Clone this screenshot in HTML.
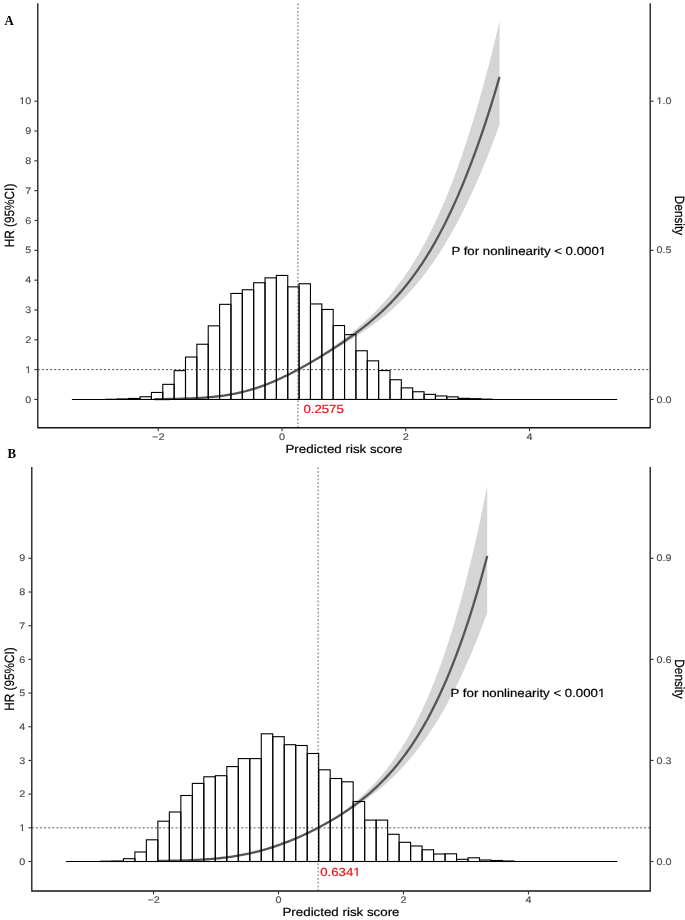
<!DOCTYPE html>
<html><head><meta charset="utf-8"><style>
html,body{margin:0;padding:0;background:#fff;}
svg{display:block;will-change:transform;}
text{text-rendering:geometricPrecision;}
</style></head><body>
<svg width="685" height="920" viewBox="0 0 685 920">
<rect width="685" height="920" fill="#fff"/>
<line x1="37.70" y1="369.62" x2="650.2" y2="369.62" stroke="#474747" stroke-width="1.0" stroke-dasharray="2 2.14"/>
<line x1="297.93" y1="3.6" x2="297.93" y2="427.75" stroke="#666" stroke-width="1.0" stroke-dasharray="1.8 1.84"/>
<polygon points="154.35,399.12 155.80,399.11 157.24,399.10 158.68,399.08 160.13,399.07 161.57,399.05 163.02,399.03 164.46,399.01 165.91,398.99 167.35,398.97 168.80,398.94 170.24,398.91 171.68,398.89 173.13,398.86 174.57,398.82 176.02,398.79 177.46,398.75 178.91,398.72 180.35,398.67 181.79,398.63 183.24,398.58 184.68,398.53 186.13,398.48 187.57,398.42 189.02,398.36 190.46,398.30 191.91,398.23 193.35,398.16 194.79,398.08 196.24,398.00 197.68,397.92 199.13,397.83 200.57,397.73 202.02,397.63 203.46,397.52 204.90,397.41 206.35,397.29 207.79,397.17 209.24,397.03 210.68,396.90 212.13,396.75 213.57,396.60 215.01,396.43 216.46,396.27 217.90,396.09 219.35,395.90 220.79,395.71 222.24,395.50 223.68,395.29 225.13,395.07 226.57,394.83 228.01,394.59 229.46,394.34 230.90,394.07 232.35,393.80 233.79,393.52 235.24,393.22 236.68,392.91 238.12,392.60 239.57,392.27 241.01,391.92 242.46,391.57 243.90,391.21 245.35,390.83 246.79,390.44 248.23,390.04 249.68,389.62 251.12,389.20 252.57,388.76 254.01,388.31 255.46,387.85 256.90,387.38 258.35,386.89 259.79,386.39 261.23,385.88 262.68,385.36 264.12,384.83 265.57,384.29 267.01,383.73 268.46,383.17 269.90,382.59 271.34,382.00 272.79,381.40 274.23,380.80 275.68,380.18 277.12,379.55 278.57,378.92 280.01,378.27 281.46,377.62 282.90,376.95 284.34,376.28 285.79,375.61 287.23,374.92 288.68,374.23 290.12,373.52 291.57,372.82 293.01,372.10 294.45,371.38 295.90,370.66 297.34,369.93 298.79,369.14 300.23,368.30 301.68,367.46 303.12,366.61 304.56,365.75 306.01,364.88 307.45,364.00 308.90,363.11 310.34,362.21 311.79,361.30 313.23,360.39 314.68,359.47 316.12,358.54 317.56,357.60 319.01,356.65 320.45,355.69 321.90,354.73 323.34,353.76 324.79,352.78 326.23,351.79 327.67,350.79 329.12,349.79 330.56,348.77 332.01,347.75 333.45,346.71 334.90,345.67 336.34,344.62 337.78,343.56 339.23,342.49 340.67,341.41 342.12,340.31 343.56,339.21 345.01,338.10 346.45,336.97 347.90,335.84 349.34,334.69 350.78,333.53 352.23,332.35 353.67,331.17 355.12,329.96 356.56,328.75 358.01,327.52 359.45,326.27 360.89,325.01 362.34,323.73 363.78,322.44 365.23,321.13 366.67,319.80 368.12,318.45 369.56,317.08 371.00,315.69 372.45,314.28 373.89,312.85 375.34,311.40 376.78,309.93 378.23,308.43 379.67,306.91 381.12,305.37 382.56,303.79 384.00,302.20 385.45,300.57 386.89,298.92 388.34,297.24 389.78,295.53 391.23,293.79 392.67,292.02 394.11,290.22 395.56,288.39 397.00,286.52 398.45,284.62 399.89,282.69 401.34,280.71 402.78,278.71 404.23,276.66 405.67,274.58 407.11,272.46 408.56,270.29 410.00,268.09 411.45,265.85 412.89,263.56 414.34,261.23 415.78,258.86 417.22,256.44 418.67,253.97 420.11,251.46 421.56,248.90 423.00,246.30 424.45,243.64 425.89,240.94 427.33,238.18 428.78,235.37 430.22,232.51 431.67,229.60 433.11,226.64 434.56,223.62 436.00,220.54 437.45,217.41 438.89,214.22 440.33,210.98 441.78,207.68 443.22,204.32 444.67,200.90 446.11,197.42 447.56,193.88 449.00,190.28 450.44,186.62 451.89,182.89 453.33,179.11 454.78,175.26 456.22,171.34 457.67,167.37 459.11,163.33 460.55,159.22 462.00,155.05 463.44,150.81 464.89,146.50 466.33,142.13 467.78,137.69 469.22,133.18 470.67,128.60 472.11,123.95 473.55,119.23 475.00,114.44 476.44,109.58 477.89,104.64 479.33,99.63 480.78,94.55 482.22,89.39 483.66,84.16 485.11,78.85 486.55,73.45 488.00,67.98 489.44,62.43 490.89,56.79 492.33,51.07 493.78,45.26 495.22,39.35 496.66,33.36 498.11,27.27 499.55,21.08 499.55,124.45 498.11,128.50 496.66,132.48 495.22,136.40 493.78,140.27 492.33,144.09 490.89,147.85 489.44,151.56 488.00,155.22 486.55,158.83 485.11,162.39 483.66,165.91 482.22,169.38 480.78,172.80 479.33,176.18 477.89,179.51 476.44,182.80 475.00,186.04 473.55,189.25 472.11,192.41 470.67,195.52 469.22,198.60 467.78,201.63 466.33,204.62 464.89,207.57 463.44,210.48 462.00,213.35 460.55,216.18 459.11,218.97 457.67,221.71 456.22,224.42 454.78,227.09 453.33,229.72 451.89,232.31 450.44,234.86 449.00,237.37 447.56,239.84 446.11,242.28 444.67,244.67 443.22,247.03 441.78,249.35 440.33,251.64 438.89,253.89 437.45,256.10 436.00,258.27 434.56,260.41 433.11,262.52 431.67,264.59 430.22,266.62 428.78,268.62 427.33,270.59 425.89,272.52 424.45,274.42 423.00,276.29 421.56,278.13 420.11,279.93 418.67,281.70 417.22,283.45 415.78,285.16 414.34,286.84 412.89,288.50 411.45,290.13 410.00,291.72 408.56,293.29 407.11,294.84 405.67,296.36 404.23,297.85 402.78,299.31 401.34,300.76 399.89,302.17 398.45,303.57 397.00,304.94 395.56,306.29 394.11,307.61 392.67,308.92 391.23,310.20 389.78,311.47 388.34,312.71 386.89,313.93 385.45,315.14 384.00,316.33 382.56,317.50 381.12,318.65 379.67,319.79 378.23,320.91 376.78,322.01 375.34,323.10 373.89,324.18 372.45,325.24 371.00,326.29 369.56,327.33 368.12,328.35 366.67,329.36 365.23,330.36 363.78,331.35 362.34,332.32 360.89,333.29 359.45,334.25 358.01,335.19 356.56,336.13 355.12,337.06 353.67,337.99 352.23,338.90 350.78,339.81 349.34,340.71 347.90,341.60 346.45,342.48 345.01,343.36 343.56,344.24 342.12,345.10 340.67,345.97 339.23,346.82 337.78,347.68 336.34,348.53 334.90,349.37 333.45,350.21 332.01,351.04 330.56,351.87 329.12,352.70 327.67,353.52 326.23,354.34 324.79,355.16 323.34,355.97 321.90,356.78 320.45,357.58 319.01,358.38 317.56,359.18 316.12,359.97 314.68,360.76 313.23,361.55 311.79,362.33 310.34,363.11 308.90,363.89 307.45,364.66 306.01,365.43 304.56,366.19 303.12,366.95 301.68,367.70 300.23,368.45 298.79,369.19 297.34,369.96 295.90,370.77 294.45,371.58 293.01,372.37 291.57,373.15 290.12,373.92 288.68,374.68 287.23,375.43 285.79,376.17 284.34,376.90 282.90,377.61 281.46,378.31 280.01,379.00 278.57,379.68 277.12,380.35 275.68,381.00 274.23,381.64 272.79,382.27 271.34,382.88 269.90,383.48 268.46,384.07 267.01,384.65 265.57,385.21 264.12,385.76 262.68,386.29 261.23,386.81 259.79,387.32 258.35,387.81 256.90,388.29 255.46,388.76 254.01,389.21 252.57,389.65 251.12,390.07 249.68,390.49 248.23,390.89 246.79,391.27 245.35,391.65 243.90,392.01 242.46,392.35 241.01,392.69 239.57,393.01 238.12,393.32 236.68,393.62 235.24,393.91 233.79,394.19 232.35,394.45 230.90,394.71 229.46,394.95 228.01,395.18 226.57,395.41 225.13,395.62 223.68,395.82 222.24,396.02 220.79,396.20 219.35,396.38 217.90,396.55 216.46,396.71 215.01,396.86 213.57,397.00 212.13,397.14 210.68,397.27 209.24,397.39 207.79,397.51 206.35,397.62 204.90,397.73 203.46,397.83 202.02,397.92 200.57,398.01 199.13,398.09 197.68,398.17 196.24,398.24 194.79,398.31 193.35,398.38 191.91,398.44 190.46,398.50 189.02,398.55 187.57,398.61 186.13,398.65 184.68,398.70 183.24,398.74 181.79,398.78 180.35,398.82 178.91,398.85 177.46,398.89 176.02,398.92 174.57,398.95 173.13,398.97 171.68,399.00 170.24,399.02 168.80,399.04 167.35,399.06 165.91,399.08 164.46,399.10 163.02,399.12 161.57,399.13 160.13,399.15 158.68,399.16 157.24,399.17 155.80,399.18 154.35,399.19" fill="#000" fill-opacity="0.165"/>
<polyline points="154.35,399.16 155.80,399.15 157.24,399.14 158.68,399.12 160.13,399.11 161.57,399.09 163.02,399.08 164.46,399.06 165.91,399.04 167.35,399.02 168.80,399.00 170.24,398.97 171.68,398.95 173.13,398.92 174.57,398.89 176.02,398.86 177.46,398.82 178.91,398.79 180.35,398.75 181.79,398.71 183.24,398.67 184.68,398.62 186.13,398.57 187.57,398.52 189.02,398.46 190.46,398.40 191.91,398.34 193.35,398.27 194.79,398.20 196.24,398.13 197.68,398.05 199.13,397.96 200.57,397.88 202.02,397.78 203.46,397.68 204.90,397.58 206.35,397.46 207.79,397.35 209.24,397.22 210.68,397.09 212.13,396.95 213.57,396.81 215.01,396.65 216.46,396.49 217.90,396.33 219.35,396.15 220.79,395.96 222.24,395.77 223.68,395.57 225.13,395.35 226.57,395.13 228.01,394.90 229.46,394.65 230.90,394.40 232.35,394.14 233.79,393.86 235.24,393.58 236.68,393.28 238.12,392.97 239.57,392.65 241.01,392.32 242.46,391.97 243.90,391.62 245.35,391.25 246.79,390.87 248.23,390.47 249.68,390.07 251.12,389.65 252.57,389.21 254.01,388.77 255.46,388.31 256.90,387.84 258.35,387.36 259.79,386.86 261.23,386.35 262.68,385.83 264.12,385.30 265.57,384.75 267.01,384.20 268.46,383.63 269.90,383.04 271.34,382.45 272.79,381.84 274.23,381.22 275.68,380.59 277.12,379.95 278.57,379.30 280.01,378.64 281.46,377.97 282.90,377.29 284.34,376.59 285.79,375.89 287.23,375.18 288.68,374.46 290.12,373.73 291.57,372.99 293.01,372.24 294.45,371.48 295.90,370.72 297.34,369.94 298.79,369.16 300.23,368.37 301.68,367.58 303.12,366.78 304.56,365.97 306.01,365.15 307.45,364.33 308.90,363.50 310.34,362.66 311.79,361.82 313.23,360.98 314.68,360.12 316.12,359.26 317.56,358.40 319.01,357.53 320.45,356.65 321.90,355.77 323.34,354.88 324.79,353.98 326.23,353.08 327.67,352.18 329.12,351.26 330.56,350.35 332.01,349.42 333.45,348.49 334.90,347.55 336.34,346.61 337.78,345.66 339.23,344.70 340.67,343.73 342.12,342.76 343.56,341.78 345.01,340.79 346.45,339.79 347.90,338.79 349.34,337.77 350.78,336.75 352.23,335.71 353.67,334.67 355.12,333.61 356.56,332.54 358.01,331.47 359.45,330.38 360.89,329.27 362.34,328.16 363.78,327.03 365.23,325.89 366.67,324.73 368.12,323.56 369.56,322.37 371.00,321.17 372.45,319.95 373.89,318.72 375.34,317.46 376.78,316.19 378.23,314.90 379.67,313.59 381.12,312.26 382.56,310.91 384.00,309.54 385.45,308.15 386.89,306.73 388.34,305.29 389.78,303.83 391.23,302.34 392.67,300.83 394.11,299.29 395.56,297.73 397.00,296.14 398.45,294.52 399.89,292.87 401.34,291.20 402.78,289.49 404.23,287.76 405.67,285.99 407.11,284.19 408.56,282.36 410.00,280.49 411.45,278.59 412.89,276.66 414.34,274.69 415.78,272.69 417.22,270.65 418.67,268.57 420.11,266.46 421.56,264.30 423.00,262.11 424.45,259.88 425.89,257.60 427.33,255.29 428.78,252.94 430.22,250.54 431.67,248.10 433.11,245.62 434.56,243.09 436.00,240.52 437.45,237.91 438.89,235.25 440.33,232.54 441.78,229.79 443.22,226.99 444.67,224.15 446.11,221.25 447.56,218.31 449.00,215.32 450.44,212.28 451.89,209.20 453.33,206.06 454.78,202.87 456.22,199.64 457.67,196.35 459.11,193.01 460.55,189.62 462.00,186.18 463.44,182.69 464.89,179.14 466.33,175.55 467.78,171.89 469.22,168.19 470.67,164.43 472.11,160.62 473.55,156.75 475.00,152.83 476.44,148.85 477.89,144.81 479.33,140.72 480.78,136.57 482.22,132.36 483.66,128.09 485.11,123.77 486.55,119.38 488.00,114.92 489.44,110.41 490.89,105.83 492.33,101.18 493.78,96.47 495.22,91.68 496.66,86.82 498.11,81.89 499.55,76.88" fill="none" stroke="#555" stroke-width="2.3" stroke-linejoin="round"/>
<rect x="105.98" y="399.25" width="11.360" height="0.20" fill="none" stroke="#000" stroke-width="1.1"/>
<rect x="117.34" y="398.95" width="11.360" height="0.50" fill="none" stroke="#000" stroke-width="1.1"/>
<rect x="128.70" y="398.45" width="11.360" height="1.00" fill="none" stroke="#000" stroke-width="1.1"/>
<rect x="140.06" y="396.75" width="11.360" height="2.70" fill="none" stroke="#000" stroke-width="1.1"/>
<rect x="151.42" y="392.45" width="11.360" height="7.00" fill="none" stroke="#000" stroke-width="1.1"/>
<rect x="162.78" y="384.35" width="11.360" height="15.10" fill="none" stroke="#000" stroke-width="1.1"/>
<rect x="174.14" y="370.65" width="11.360" height="28.80" fill="none" stroke="#000" stroke-width="1.1"/>
<rect x="185.50" y="357.05" width="11.360" height="42.40" fill="none" stroke="#000" stroke-width="1.1"/>
<rect x="196.86" y="344.25" width="11.360" height="55.20" fill="none" stroke="#000" stroke-width="1.1"/>
<rect x="208.22" y="325.85" width="11.360" height="73.60" fill="none" stroke="#000" stroke-width="1.1"/>
<rect x="219.58" y="304.35" width="11.360" height="95.10" fill="none" stroke="#000" stroke-width="1.1"/>
<rect x="230.94" y="293.45" width="11.360" height="106.00" fill="none" stroke="#000" stroke-width="1.1"/>
<rect x="242.30" y="289.75" width="11.360" height="109.70" fill="none" stroke="#000" stroke-width="1.1"/>
<rect x="253.66" y="282.75" width="11.360" height="116.70" fill="none" stroke="#000" stroke-width="1.1"/>
<rect x="265.02" y="277.85" width="11.360" height="121.60" fill="none" stroke="#000" stroke-width="1.1"/>
<rect x="276.38" y="275.45" width="11.360" height="124.00" fill="none" stroke="#000" stroke-width="1.1"/>
<rect x="287.74" y="286.85" width="11.360" height="112.60" fill="none" stroke="#000" stroke-width="1.1"/>
<rect x="299.10" y="283.75" width="11.360" height="115.70" fill="none" stroke="#000" stroke-width="1.1"/>
<rect x="310.46" y="303.95" width="11.360" height="95.50" fill="none" stroke="#000" stroke-width="1.1"/>
<rect x="321.82" y="309.45" width="11.360" height="90.00" fill="none" stroke="#000" stroke-width="1.1"/>
<rect x="333.18" y="325.55" width="11.360" height="73.90" fill="none" stroke="#000" stroke-width="1.1"/>
<rect x="344.54" y="334.65" width="11.360" height="64.80" fill="none" stroke="#000" stroke-width="1.1"/>
<rect x="355.90" y="350.75" width="11.360" height="48.70" fill="none" stroke="#000" stroke-width="1.1"/>
<rect x="367.26" y="360.85" width="11.360" height="38.60" fill="none" stroke="#000" stroke-width="1.1"/>
<rect x="378.62" y="370.55" width="11.360" height="28.90" fill="none" stroke="#000" stroke-width="1.1"/>
<rect x="389.98" y="379.75" width="11.360" height="19.70" fill="none" stroke="#000" stroke-width="1.1"/>
<rect x="401.34" y="387.85" width="11.360" height="11.60" fill="none" stroke="#000" stroke-width="1.1"/>
<rect x="412.70" y="391.75" width="11.360" height="7.70" fill="none" stroke="#000" stroke-width="1.1"/>
<rect x="424.06" y="394.35" width="11.360" height="5.10" fill="none" stroke="#000" stroke-width="1.1"/>
<rect x="435.42" y="395.95" width="11.360" height="3.50" fill="none" stroke="#000" stroke-width="1.1"/>
<rect x="446.78" y="396.85" width="11.360" height="2.60" fill="none" stroke="#000" stroke-width="1.1"/>
<rect x="458.14" y="398.35" width="11.360" height="1.10" fill="none" stroke="#000" stroke-width="1.1"/>
<rect x="469.50" y="398.65" width="11.360" height="0.80" fill="none" stroke="#000" stroke-width="1.1"/>
<rect x="480.86" y="399.15" width="11.360" height="0.30" fill="none" stroke="#000" stroke-width="1.1"/>
<line x1="71.90" y1="399.45" x2="617.18" y2="399.45" stroke="#000" stroke-width="1.1"/>
<path d="M37.8,3.2 V427.75 H650.2 V3.2" fill="none" stroke="#141414" stroke-width="1.3"/>
<line x1="34.40" y1="399.45" x2="37.8" y2="399.45" stroke="#333" stroke-width="1.1"/>
<text transform="translate(31.20,402.60) scale(1.13,1)" font-family="Liberation Sans" font-size="9.55" font-weight="normal" text-anchor="end" fill="#4d4d4d" stroke="#4d4d4d" stroke-width="0.15">0</text>
<line x1="34.40" y1="369.62" x2="37.8" y2="369.62" stroke="#333" stroke-width="1.1"/>
<text transform="translate(31.20,372.77) scale(1.13,1)" font-family="Liberation Sans" font-size="9.55" font-weight="normal" text-anchor="end" fill="#4d4d4d" stroke="#4d4d4d" stroke-width="0.15">1</text><g transform="translate(31.20,372.77) scale(1.13,1)"><rect x="-5.210" y="-1.463" width="2.099" height="2.288" fill="#fff"/><rect x="-1.867" y="-1.463" width="2.024" height="2.288" fill="#fff"/></g>
<line x1="34.40" y1="339.80" x2="37.8" y2="339.80" stroke="#333" stroke-width="1.1"/>
<text transform="translate(31.20,342.95) scale(1.13,1)" font-family="Liberation Sans" font-size="9.55" font-weight="normal" text-anchor="end" fill="#4d4d4d" stroke="#4d4d4d" stroke-width="0.15">2</text>
<line x1="34.40" y1="309.98" x2="37.8" y2="309.98" stroke="#333" stroke-width="1.1"/>
<text transform="translate(31.20,313.12) scale(1.13,1)" font-family="Liberation Sans" font-size="9.55" font-weight="normal" text-anchor="end" fill="#4d4d4d" stroke="#4d4d4d" stroke-width="0.15">3</text>
<line x1="34.40" y1="280.15" x2="37.8" y2="280.15" stroke="#333" stroke-width="1.1"/>
<text transform="translate(31.20,283.30) scale(1.13,1)" font-family="Liberation Sans" font-size="9.55" font-weight="normal" text-anchor="end" fill="#4d4d4d" stroke="#4d4d4d" stroke-width="0.15">4</text>
<line x1="34.40" y1="250.32" x2="37.8" y2="250.32" stroke="#333" stroke-width="1.1"/>
<text transform="translate(31.20,253.47) scale(1.13,1)" font-family="Liberation Sans" font-size="9.55" font-weight="normal" text-anchor="end" fill="#4d4d4d" stroke="#4d4d4d" stroke-width="0.15">5</text>
<line x1="34.40" y1="220.50" x2="37.8" y2="220.50" stroke="#333" stroke-width="1.1"/>
<text transform="translate(31.20,223.65) scale(1.13,1)" font-family="Liberation Sans" font-size="9.55" font-weight="normal" text-anchor="end" fill="#4d4d4d" stroke="#4d4d4d" stroke-width="0.15">6</text>
<line x1="34.40" y1="190.67" x2="37.8" y2="190.67" stroke="#333" stroke-width="1.1"/>
<text transform="translate(31.20,193.82) scale(1.13,1)" font-family="Liberation Sans" font-size="9.55" font-weight="normal" text-anchor="end" fill="#4d4d4d" stroke="#4d4d4d" stroke-width="0.15">7</text>
<line x1="34.40" y1="160.85" x2="37.8" y2="160.85" stroke="#333" stroke-width="1.1"/>
<text transform="translate(31.20,164.00) scale(1.13,1)" font-family="Liberation Sans" font-size="9.55" font-weight="normal" text-anchor="end" fill="#4d4d4d" stroke="#4d4d4d" stroke-width="0.15">8</text>
<line x1="34.40" y1="131.02" x2="37.8" y2="131.02" stroke="#333" stroke-width="1.1"/>
<text transform="translate(31.20,134.17) scale(1.13,1)" font-family="Liberation Sans" font-size="9.55" font-weight="normal" text-anchor="end" fill="#4d4d4d" stroke="#4d4d4d" stroke-width="0.15">9</text>
<line x1="34.40" y1="101.20" x2="37.8" y2="101.20" stroke="#333" stroke-width="1.1"/>
<text transform="translate(31.20,104.35) scale(1.13,1)" font-family="Liberation Sans" font-size="9.55" font-weight="normal" text-anchor="end" fill="#4d4d4d" stroke="#4d4d4d" stroke-width="0.15">10</text><g transform="translate(31.20,104.35) scale(1.13,1)"><rect x="-10.523" y="-1.463" width="2.099" height="2.288" fill="#fff"/><rect x="-7.179" y="-1.463" width="2.024" height="2.288" fill="#fff"/></g>
<line x1="158.25" y1="427.75" x2="158.25" y2="431.15" stroke="#333" stroke-width="1.1"/>
<text transform="translate(158.25,439.75) scale(1.13,1)" font-family="Liberation Sans" font-size="9.55" font-weight="normal" text-anchor="middle" fill="#4d4d4d" stroke="#4d4d4d" stroke-width="0.15">−2</text>
<line x1="282.00" y1="427.75" x2="282.00" y2="431.15" stroke="#333" stroke-width="1.1"/>
<text transform="translate(282.00,439.75) scale(1.13,1)" font-family="Liberation Sans" font-size="9.55" font-weight="normal" text-anchor="middle" fill="#4d4d4d" stroke="#4d4d4d" stroke-width="0.15">0</text>
<line x1="405.75" y1="427.75" x2="405.75" y2="431.15" stroke="#333" stroke-width="1.1"/>
<text transform="translate(405.75,439.75) scale(1.13,1)" font-family="Liberation Sans" font-size="9.55" font-weight="normal" text-anchor="middle" fill="#4d4d4d" stroke="#4d4d4d" stroke-width="0.15">2</text>
<line x1="529.50" y1="427.75" x2="529.50" y2="431.15" stroke="#333" stroke-width="1.1"/>
<text transform="translate(529.50,439.75) scale(1.13,1)" font-family="Liberation Sans" font-size="9.55" font-weight="normal" text-anchor="middle" fill="#4d4d4d" stroke="#4d4d4d" stroke-width="0.15">4</text>
<line x1="650.2" y1="399.45" x2="653.60" y2="399.45" stroke="#333" stroke-width="1.1"/>
<text transform="translate(656.60,402.60) scale(1.13,1)" font-family="Liberation Sans" font-size="9.55" font-weight="normal" text-anchor="start" fill="#4d4d4d" stroke="#4d4d4d" stroke-width="0.15">0.0</text>
<line x1="650.2" y1="250.32" x2="653.60" y2="250.32" stroke="#333" stroke-width="1.1"/>
<text transform="translate(656.60,253.47) scale(1.13,1)" font-family="Liberation Sans" font-size="9.55" font-weight="normal" text-anchor="start" fill="#4d4d4d" stroke="#4d4d4d" stroke-width="0.15">0.5</text>
<line x1="650.2" y1="101.20" x2="653.60" y2="101.20" stroke="#333" stroke-width="1.1"/>
<text transform="translate(656.60,104.35) scale(1.13,1)" font-family="Liberation Sans" font-size="9.55" font-weight="normal" text-anchor="start" fill="#4d4d4d" stroke="#4d4d4d" stroke-width="0.15">1.0</text><g transform="translate(656.60,104.35) scale(1.13,1)"><rect x="0.102" y="-1.463" width="2.099" height="2.288" fill="#fff"/><rect x="3.446" y="-1.463" width="2.024" height="2.288" fill="#fff"/></g>
<text transform="translate(344.00,452.70) scale(1.13,1)" font-family="Liberation Sans" font-size="11.8" font-weight="normal" text-anchor="middle" fill="#000" stroke="#000" stroke-width="0.2">Predicted risk score</text>
<text transform="translate(13.60,215.47) scale(1.13,1) rotate(-90)" font-family="Liberation Sans" font-size="11.8" font-weight="normal" text-anchor="middle" fill="#000" stroke="#000" stroke-width="0.2">HR (95%CI)</text>
<text transform="translate(674.60,215.47) scale(1.13,1) rotate(90)" font-family="Liberation Sans" font-size="11.8" font-weight="normal" text-anchor="middle" fill="#000" stroke="#000" stroke-width="0.2">Density</text>
<text transform="translate(451.40,254.60) scale(1.13,1)" font-family="Liberation Sans" font-size="11.72" font-weight="normal" text-anchor="start" fill="#000" stroke="#000" stroke-width="0.2">P for nonlinearity &lt; 0.0001</text><g transform="translate(451.40,254.60) scale(1.13,1)"><rect x="130.633" y="-1.626" width="2.504" height="2.476" fill="#fff"/><rect x="134.574" y="-1.626" width="2.413" height="2.476" fill="#fff"/></g>
<text transform="translate(303.40,412.60) scale(1.13,1)" font-family="Liberation Sans" font-size="11.7" font-weight="normal" text-anchor="start" fill="#e31a1c" stroke="#e31a1c" stroke-width="0.22">0.2575</text>
<text transform="translate(4.40,24.90) scale(0.93,1)" font-family="Liberation Serif" font-size="13.8" font-weight="bold" text-anchor="start" fill="#000">A</text>
<line x1="31.70" y1="827.81" x2="650.2" y2="827.81" stroke="#8f8f8f" stroke-width="1.5" stroke-dasharray="2 2.11"/>
<line x1="318.12" y1="467.4" x2="318.12" y2="891.0" stroke="#6a6a6a" stroke-width="1.0" stroke-dasharray="1.8 1.9"/>
<polygon points="157.89,860.83 159.27,860.81 160.65,860.79 162.03,860.77 163.41,860.75 164.78,860.73 166.16,860.71 167.54,860.68 168.92,860.66 170.30,860.63 171.67,860.60 173.05,860.57 174.43,860.53 175.81,860.50 177.19,860.46 178.56,860.42 179.94,860.38 181.32,860.34 182.70,860.29 184.07,860.24 185.45,860.19 186.83,860.14 188.21,860.08 189.59,860.02 190.96,859.96 192.34,859.89 193.72,859.82 195.10,859.75 196.48,859.67 197.85,859.59 199.23,859.51 200.61,859.42 201.99,859.33 203.37,859.24 204.74,859.14 206.12,859.03 207.50,858.92 208.88,858.81 210.26,858.69 211.63,858.57 213.01,858.44 214.39,858.30 215.77,858.17 217.14,858.02 218.52,857.87 219.90,857.71 221.28,857.55 222.66,857.38 224.03,857.21 225.41,857.03 226.79,856.84 228.17,856.64 229.55,856.44 230.92,856.23 232.30,856.02 233.68,855.80 235.06,855.57 236.44,855.33 237.81,855.08 239.19,854.83 240.57,854.57 241.95,854.31 243.33,854.03 244.70,853.75 246.08,853.46 247.46,853.16 248.84,852.85 250.21,852.54 251.59,852.21 252.97,851.88 254.35,851.55 255.73,851.20 257.10,850.84 258.48,850.48 259.86,850.11 261.24,849.73 262.62,849.34 263.99,848.95 265.37,848.55 266.75,848.14 268.13,847.72 269.51,847.29 270.88,846.86 272.26,846.41 273.64,845.97 275.02,845.51 276.40,845.04 277.77,844.57 279.15,844.09 280.53,843.61 281.91,843.11 283.28,842.61 284.66,842.10 286.04,841.59 287.42,841.07 288.80,840.54 290.17,840.00 291.55,839.46 292.93,838.91 294.31,838.36 295.69,837.80 297.06,837.23 298.44,836.66 299.82,836.08 301.20,835.49 302.58,834.90 303.95,834.30 305.33,833.70 306.71,833.09 308.09,832.47 309.47,831.85 310.84,831.22 312.22,830.59 313.60,829.95 314.98,829.31 316.35,828.66 317.73,828.00 319.11,827.25 320.49,826.45 321.87,825.64 323.24,824.82 324.62,823.99 326.00,823.14 327.38,822.29 328.76,821.42 330.13,820.54 331.51,819.64 332.89,818.73 334.27,817.81 335.65,816.88 337.02,815.93 338.40,814.97 339.78,813.99 341.16,813.00 342.54,811.99 343.91,810.97 345.29,809.93 346.67,808.88 348.05,807.81 349.42,806.72 350.80,805.62 352.18,804.50 353.56,803.36 354.94,802.20 356.31,801.02 357.69,799.82 359.07,798.60 360.45,797.36 361.83,796.10 363.20,794.82 364.58,793.52 365.96,792.19 367.34,790.84 368.72,789.47 370.09,788.07 371.47,786.65 372.85,785.20 374.23,783.72 375.61,782.22 376.98,780.69 378.36,779.13 379.74,777.54 381.12,775.92 382.49,774.27 383.87,772.59 385.25,770.88 386.63,769.13 388.01,767.35 389.38,765.54 390.76,763.69 392.14,761.80 393.52,759.88 394.90,757.91 396.27,755.91 397.65,753.87 399.03,751.79 400.41,749.67 401.79,747.50 403.16,745.29 404.54,743.04 405.92,740.74 407.30,738.39 408.68,736.00 410.05,733.56 411.43,731.07 412.81,728.53 414.19,725.94 415.56,723.29 416.94,720.60 418.32,717.85 419.70,715.04 421.08,712.18 422.45,709.26 423.83,706.28 425.21,703.24 426.59,700.14 427.97,696.98 429.34,693.75 430.72,690.46 432.10,687.11 433.48,683.69 434.86,680.21 436.23,676.65 437.61,673.03 438.99,669.33 440.37,665.57 441.75,661.73 443.12,657.82 444.50,653.83 445.88,649.76 447.26,645.62 448.63,641.40 450.01,637.10 451.39,632.72 452.77,628.26 454.15,623.71 455.52,619.08 456.90,614.37 458.28,609.56 459.66,604.67 461.04,599.69 462.41,594.61 463.79,589.44 465.17,584.18 466.55,578.82 467.93,573.37 469.30,567.81 470.68,562.16 472.06,556.40 473.44,550.54 474.82,544.57 476.19,538.49 477.57,532.30 478.95,525.99 480.33,519.57 481.70,513.04 483.08,506.38 484.46,499.59 485.84,492.68 487.22,485.64 487.22,612.66 485.84,616.47 484.46,620.23 483.08,623.92 481.70,627.57 480.33,631.16 478.95,634.70 477.57,638.19 476.19,641.62 474.82,645.01 473.44,648.36 472.06,651.65 470.68,654.90 469.30,658.10 467.93,661.26 466.55,664.37 465.17,667.44 463.79,670.46 462.41,673.44 461.04,676.38 459.66,679.28 458.28,682.13 456.90,684.95 455.52,687.72 454.15,690.46 452.77,693.15 451.39,695.80 450.01,698.42 448.63,700.99 447.26,703.53 445.88,706.03 444.50,708.49 443.12,710.92 441.75,713.30 440.37,715.65 438.99,717.97 437.61,720.25 436.23,722.49 434.86,724.70 433.48,726.87 432.10,729.01 430.72,731.11 429.34,733.18 427.97,735.22 426.59,737.23 425.21,739.20 423.83,741.14 422.45,743.05 421.08,744.93 419.70,746.78 418.32,748.59 416.94,750.38 415.56,752.14 414.19,753.87 412.81,755.57 411.43,757.24 410.05,758.89 408.68,760.50 407.30,762.09 405.92,763.66 404.54,765.20 403.16,766.71 401.79,768.20 400.41,769.67 399.03,771.11 397.65,772.52 396.27,773.92 394.90,775.29 393.52,776.64 392.14,777.97 390.76,779.27 389.38,780.56 388.01,781.82 386.63,783.07 385.25,784.29 383.87,785.50 382.49,786.69 381.12,787.86 379.74,789.01 378.36,790.15 376.98,791.26 375.61,792.36 374.23,793.45 372.85,794.52 371.47,795.57 370.09,796.61 368.72,797.64 367.34,798.65 365.96,799.64 364.58,800.62 363.20,801.59 361.83,802.55 360.45,803.50 359.07,804.43 357.69,805.35 356.31,806.26 354.94,807.15 353.56,808.04 352.18,808.92 350.80,809.78 349.42,810.64 348.05,811.48 346.67,812.32 345.29,813.14 343.91,813.96 342.54,814.77 341.16,815.57 339.78,816.36 338.40,817.14 337.02,817.92 335.65,818.69 334.27,819.45 332.89,820.20 331.51,820.94 330.13,821.68 328.76,822.41 327.38,823.13 326.00,823.85 324.62,824.56 323.24,825.26 321.87,825.95 320.49,826.64 319.11,827.33 317.73,828.03 316.35,828.79 314.98,829.54 313.60,830.29 312.22,831.02 310.84,831.74 309.47,832.45 308.09,833.15 306.71,833.84 305.33,834.53 303.95,835.20 302.58,835.86 301.20,836.51 299.82,837.15 298.44,837.79 297.06,838.41 295.69,839.02 294.31,839.63 292.93,840.22 291.55,840.81 290.17,841.38 288.80,841.95 287.42,842.50 286.04,843.05 284.66,843.58 283.28,844.11 281.91,844.63 280.53,845.13 279.15,845.63 277.77,846.12 276.40,846.60 275.02,847.06 273.64,847.52 272.26,847.97 270.88,848.41 269.51,848.84 268.13,849.26 266.75,849.67 265.37,850.07 263.99,850.47 262.62,850.85 261.24,851.22 259.86,851.59 258.48,851.94 257.10,852.29 255.73,852.62 254.35,852.95 252.97,853.27 251.59,853.58 250.21,853.88 248.84,854.17 247.46,854.45 246.08,854.73 244.70,855.00 243.33,855.25 241.95,855.50 240.57,855.75 239.19,855.98 237.81,856.21 236.44,856.42 235.06,856.64 233.68,856.84 232.30,857.04 230.92,857.23 229.55,857.41 228.17,857.59 226.79,857.75 225.41,857.92 224.03,858.07 222.66,858.23 221.28,858.37 219.90,858.51 218.52,858.64 217.14,858.77 215.77,858.89 214.39,859.01 213.01,859.12 211.63,859.23 210.26,859.33 208.88,859.43 207.50,859.53 206.12,859.62 204.74,859.70 203.37,859.78 201.99,859.86 200.61,859.94 199.23,860.01 197.85,860.07 196.48,860.14 195.10,860.20 193.72,860.26 192.34,860.31 190.96,860.37 189.59,860.42 188.21,860.46 186.83,860.51 185.45,860.55 184.07,860.59 182.70,860.63 181.32,860.66 179.94,860.70 178.56,860.73 177.19,860.76 175.81,860.79 174.43,860.82 173.05,860.84 171.67,860.87 170.30,860.89 168.92,860.91 167.54,860.93 166.16,860.95 164.78,860.97 163.41,860.99 162.03,861.00 160.65,861.02 159.27,861.03 157.89,861.04" fill="#000" fill-opacity="0.165"/>
<polyline points="157.89,860.95 159.27,860.93 160.65,860.92 162.03,860.90 163.41,860.88 164.78,860.86 166.16,860.84 167.54,860.82 168.92,860.80 170.30,860.77 171.67,860.75 173.05,860.72 174.43,860.69 175.81,860.66 177.19,860.63 178.56,860.59 179.94,860.56 181.32,860.52 182.70,860.48 184.07,860.43 185.45,860.39 186.83,860.34 188.21,860.29 189.59,860.24 190.96,860.18 192.34,860.12 193.72,860.06 195.10,860.00 196.48,859.93 197.85,859.86 199.23,859.79 200.61,859.71 201.99,859.62 203.37,859.54 204.74,859.45 206.12,859.36 207.50,859.26 208.88,859.15 210.26,859.05 211.63,858.93 213.01,858.82 214.39,858.70 215.77,858.57 217.14,858.44 218.52,858.30 219.90,858.15 221.28,858.01 222.66,857.85 224.03,857.69 225.41,857.52 226.79,857.35 228.17,857.17 229.55,856.98 230.92,856.78 232.30,856.58 233.68,856.37 235.06,856.16 236.44,855.94 237.81,855.71 239.19,855.47 240.57,855.22 241.95,854.97 243.33,854.71 244.70,854.44 246.08,854.16 247.46,853.88 248.84,853.58 250.21,853.28 251.59,852.97 252.97,852.65 254.35,852.33 255.73,851.99 257.10,851.65 258.48,851.29 259.86,850.93 261.24,850.56 262.62,850.18 263.99,849.79 265.37,849.40 266.75,848.99 268.13,848.58 269.51,848.15 270.88,847.72 272.26,847.28 273.64,846.83 275.02,846.37 276.40,845.91 277.77,845.43 279.15,844.95 280.53,844.46 281.91,843.95 283.28,843.44 284.66,842.93 286.04,842.40 287.42,841.87 288.80,841.32 290.17,840.77 291.55,840.21 292.93,839.64 294.31,839.07 295.69,838.48 297.06,837.89 298.44,837.29 299.82,836.68 301.20,836.06 302.58,835.44 303.95,834.80 305.33,834.16 306.71,833.51 308.09,832.85 309.47,832.19 310.84,831.51 312.22,830.83 313.60,830.14 314.98,829.44 316.35,828.73 317.73,828.02 319.11,827.29 320.49,826.56 321.87,825.82 323.24,825.06 324.62,824.30 326.00,823.54 327.38,822.76 328.76,821.97 330.13,821.17 331.51,820.37 332.89,819.55 334.27,818.72 335.65,817.89 337.02,817.04 338.40,816.18 339.78,815.31 341.16,814.43 342.54,813.54 343.91,812.64 345.29,811.72 346.67,810.79 348.05,809.85 349.42,808.90 350.80,807.93 352.18,806.95 353.56,805.96 354.94,804.95 356.31,803.93 357.69,802.89 359.07,801.84 360.45,800.77 361.83,799.69 363.20,798.59 364.58,797.47 365.96,796.33 367.34,795.18 368.72,794.01 370.09,792.82 371.47,791.61 372.85,790.38 374.23,789.13 375.61,787.86 376.98,786.56 378.36,785.25 379.74,783.91 381.12,782.55 382.49,781.17 383.87,779.76 385.25,778.33 386.63,776.87 388.01,775.39 389.38,773.88 390.76,772.34 392.14,770.77 393.52,769.18 394.90,767.56 396.27,765.90 397.65,764.22 399.03,762.51 400.41,760.76 401.79,758.99 403.16,757.18 404.54,755.33 405.92,753.45 407.30,751.54 408.68,749.59 410.05,747.61 411.43,745.59 412.81,743.53 414.19,741.43 415.56,739.29 416.94,737.11 418.32,734.90 419.70,732.64 421.08,730.34 422.45,727.99 423.83,725.61 425.21,723.17 426.59,720.70 427.97,718.18 429.34,715.61 430.72,713.00 432.10,710.33 433.48,707.62 434.86,704.86 436.23,702.06 437.61,699.20 438.99,696.29 440.37,693.32 441.75,690.31 443.12,687.24 444.50,684.12 445.88,680.94 447.26,677.71 448.63,674.42 450.01,671.08 451.39,667.67 452.77,664.21 454.15,660.69 455.52,657.11 456.90,653.47 458.28,649.77 459.66,646.00 461.04,642.17 462.41,638.28 463.79,634.32 465.17,630.30 466.55,626.21 467.93,622.05 469.30,617.82 470.68,613.53 472.06,609.16 473.44,604.72 474.82,600.20 476.19,595.61 477.57,590.95 478.95,586.20 480.33,581.38 481.70,576.47 483.08,571.48 484.46,566.41 485.84,561.25 487.22,555.99" fill="none" stroke="#555" stroke-width="2.3" stroke-linejoin="round"/>
<rect x="100.42" y="861.20" width="11.488" height="0.30" fill="none" stroke="#000" stroke-width="1.1"/>
<rect x="111.91" y="861.00" width="11.488" height="0.50" fill="none" stroke="#000" stroke-width="1.1"/>
<rect x="123.40" y="858.70" width="11.488" height="2.80" fill="none" stroke="#000" stroke-width="1.1"/>
<rect x="134.89" y="852.00" width="11.488" height="9.50" fill="none" stroke="#000" stroke-width="1.1"/>
<rect x="146.38" y="839.80" width="11.488" height="21.70" fill="none" stroke="#000" stroke-width="1.1"/>
<rect x="157.86" y="821.20" width="11.488" height="40.30" fill="none" stroke="#000" stroke-width="1.1"/>
<rect x="169.35" y="812.00" width="11.488" height="49.50" fill="none" stroke="#000" stroke-width="1.1"/>
<rect x="180.84" y="795.50" width="11.488" height="66.00" fill="none" stroke="#000" stroke-width="1.1"/>
<rect x="192.33" y="783.40" width="11.488" height="78.10" fill="none" stroke="#000" stroke-width="1.1"/>
<rect x="203.82" y="776.80" width="11.488" height="84.70" fill="none" stroke="#000" stroke-width="1.1"/>
<rect x="215.30" y="775.70" width="11.488" height="85.80" fill="none" stroke="#000" stroke-width="1.1"/>
<rect x="226.79" y="766.60" width="11.488" height="94.90" fill="none" stroke="#000" stroke-width="1.1"/>
<rect x="238.28" y="758.60" width="11.488" height="102.90" fill="none" stroke="#000" stroke-width="1.1"/>
<rect x="249.77" y="758.60" width="11.488" height="102.90" fill="none" stroke="#000" stroke-width="1.1"/>
<rect x="261.26" y="733.80" width="11.488" height="127.70" fill="none" stroke="#000" stroke-width="1.1"/>
<rect x="272.74" y="736.70" width="11.488" height="124.80" fill="none" stroke="#000" stroke-width="1.1"/>
<rect x="284.23" y="744.70" width="11.488" height="116.80" fill="none" stroke="#000" stroke-width="1.1"/>
<rect x="295.72" y="745.50" width="11.488" height="116.00" fill="none" stroke="#000" stroke-width="1.1"/>
<rect x="307.21" y="753.50" width="11.488" height="108.00" fill="none" stroke="#000" stroke-width="1.1"/>
<rect x="318.70" y="769.80" width="11.488" height="91.70" fill="none" stroke="#000" stroke-width="1.1"/>
<rect x="330.18" y="778.50" width="11.488" height="83.00" fill="none" stroke="#000" stroke-width="1.1"/>
<rect x="341.67" y="781.80" width="11.488" height="79.70" fill="none" stroke="#000" stroke-width="1.1"/>
<rect x="353.16" y="801.50" width="11.488" height="60.00" fill="none" stroke="#000" stroke-width="1.1"/>
<rect x="364.65" y="820.10" width="11.488" height="41.40" fill="none" stroke="#000" stroke-width="1.1"/>
<rect x="376.14" y="820.10" width="11.488" height="41.40" fill="none" stroke="#000" stroke-width="1.1"/>
<rect x="387.62" y="834.30" width="11.488" height="27.20" fill="none" stroke="#000" stroke-width="1.1"/>
<rect x="399.11" y="842.30" width="11.488" height="19.20" fill="none" stroke="#000" stroke-width="1.1"/>
<rect x="410.60" y="846.00" width="11.488" height="15.50" fill="none" stroke="#000" stroke-width="1.1"/>
<rect x="422.09" y="849.80" width="11.488" height="11.70" fill="none" stroke="#000" stroke-width="1.1"/>
<rect x="433.58" y="854.00" width="11.488" height="7.50" fill="none" stroke="#000" stroke-width="1.1"/>
<rect x="445.06" y="853.80" width="11.488" height="7.70" fill="none" stroke="#000" stroke-width="1.1"/>
<rect x="456.55" y="859.30" width="11.488" height="2.20" fill="none" stroke="#000" stroke-width="1.1"/>
<rect x="468.04" y="857.80" width="11.488" height="3.70" fill="none" stroke="#000" stroke-width="1.1"/>
<rect x="479.53" y="860.00" width="11.488" height="1.50" fill="none" stroke="#000" stroke-width="1.1"/>
<rect x="491.02" y="860.50" width="11.488" height="1.00" fill="none" stroke="#000" stroke-width="1.1"/>
<rect x="502.50" y="861.00" width="11.488" height="0.50" fill="none" stroke="#000" stroke-width="1.1"/>
<line x1="65.96" y1="861.50" x2="617.38" y2="861.50" stroke="#000" stroke-width="1.1"/>
<path d="M31.8,467.0 V891.0 H650.2 V467.0" fill="none" stroke="#141414" stroke-width="1.3"/>
<line x1="28.40" y1="861.50" x2="31.8" y2="861.50" stroke="#333" stroke-width="1.1"/>
<text transform="translate(25.20,864.65) scale(1.13,1)" font-family="Liberation Sans" font-size="9.55" font-weight="normal" text-anchor="end" fill="#4d4d4d" stroke="#4d4d4d" stroke-width="0.15">0</text>
<line x1="28.40" y1="827.81" x2="31.8" y2="827.81" stroke="#333" stroke-width="1.1"/>
<text transform="translate(25.20,830.96) scale(1.13,1)" font-family="Liberation Sans" font-size="9.55" font-weight="normal" text-anchor="end" fill="#4d4d4d" stroke="#4d4d4d" stroke-width="0.15">1</text><g transform="translate(25.20,830.96) scale(1.13,1)"><rect x="-5.210" y="-1.463" width="2.099" height="2.288" fill="#fff"/><rect x="-1.867" y="-1.463" width="2.024" height="2.288" fill="#fff"/></g>
<line x1="28.40" y1="794.12" x2="31.8" y2="794.12" stroke="#333" stroke-width="1.1"/>
<text transform="translate(25.20,797.27) scale(1.13,1)" font-family="Liberation Sans" font-size="9.55" font-weight="normal" text-anchor="end" fill="#4d4d4d" stroke="#4d4d4d" stroke-width="0.15">2</text>
<line x1="28.40" y1="760.43" x2="31.8" y2="760.43" stroke="#333" stroke-width="1.1"/>
<text transform="translate(25.20,763.58) scale(1.13,1)" font-family="Liberation Sans" font-size="9.55" font-weight="normal" text-anchor="end" fill="#4d4d4d" stroke="#4d4d4d" stroke-width="0.15">3</text>
<line x1="28.40" y1="726.74" x2="31.8" y2="726.74" stroke="#333" stroke-width="1.1"/>
<text transform="translate(25.20,729.89) scale(1.13,1)" font-family="Liberation Sans" font-size="9.55" font-weight="normal" text-anchor="end" fill="#4d4d4d" stroke="#4d4d4d" stroke-width="0.15">4</text>
<line x1="28.40" y1="693.05" x2="31.8" y2="693.05" stroke="#333" stroke-width="1.1"/>
<text transform="translate(25.20,696.20) scale(1.13,1)" font-family="Liberation Sans" font-size="9.55" font-weight="normal" text-anchor="end" fill="#4d4d4d" stroke="#4d4d4d" stroke-width="0.15">5</text>
<line x1="28.40" y1="659.36" x2="31.8" y2="659.36" stroke="#333" stroke-width="1.1"/>
<text transform="translate(25.20,662.51) scale(1.13,1)" font-family="Liberation Sans" font-size="9.55" font-weight="normal" text-anchor="end" fill="#4d4d4d" stroke="#4d4d4d" stroke-width="0.15">6</text>
<line x1="28.40" y1="625.67" x2="31.8" y2="625.67" stroke="#333" stroke-width="1.1"/>
<text transform="translate(25.20,628.82) scale(1.13,1)" font-family="Liberation Sans" font-size="9.55" font-weight="normal" text-anchor="end" fill="#4d4d4d" stroke="#4d4d4d" stroke-width="0.15">7</text>
<line x1="28.40" y1="591.98" x2="31.8" y2="591.98" stroke="#333" stroke-width="1.1"/>
<text transform="translate(25.20,595.13) scale(1.13,1)" font-family="Liberation Sans" font-size="9.55" font-weight="normal" text-anchor="end" fill="#4d4d4d" stroke="#4d4d4d" stroke-width="0.15">8</text>
<line x1="28.40" y1="558.29" x2="31.8" y2="558.29" stroke="#333" stroke-width="1.1"/>
<text transform="translate(25.20,561.44) scale(1.13,1)" font-family="Liberation Sans" font-size="9.55" font-weight="normal" text-anchor="end" fill="#4d4d4d" stroke="#4d4d4d" stroke-width="0.15">9</text>
<line x1="153.52" y1="891.0" x2="153.52" y2="894.40" stroke="#333" stroke-width="1.1"/>
<text transform="translate(153.52,903.00) scale(1.13,1)" font-family="Liberation Sans" font-size="9.55" font-weight="normal" text-anchor="middle" fill="#4d4d4d" stroke="#4d4d4d" stroke-width="0.15">−2</text>
<line x1="278.50" y1="891.0" x2="278.50" y2="894.40" stroke="#333" stroke-width="1.1"/>
<text transform="translate(278.50,903.00) scale(1.13,1)" font-family="Liberation Sans" font-size="9.55" font-weight="normal" text-anchor="middle" fill="#4d4d4d" stroke="#4d4d4d" stroke-width="0.15">0</text>
<line x1="403.48" y1="891.0" x2="403.48" y2="894.40" stroke="#333" stroke-width="1.1"/>
<text transform="translate(403.48,903.00) scale(1.13,1)" font-family="Liberation Sans" font-size="9.55" font-weight="normal" text-anchor="middle" fill="#4d4d4d" stroke="#4d4d4d" stroke-width="0.15">2</text>
<line x1="528.46" y1="891.0" x2="528.46" y2="894.40" stroke="#333" stroke-width="1.1"/>
<text transform="translate(528.46,903.00) scale(1.13,1)" font-family="Liberation Sans" font-size="9.55" font-weight="normal" text-anchor="middle" fill="#4d4d4d" stroke="#4d4d4d" stroke-width="0.15">4</text>
<line x1="650.2" y1="861.50" x2="653.60" y2="861.50" stroke="#333" stroke-width="1.1"/>
<text transform="translate(656.60,864.65) scale(1.13,1)" font-family="Liberation Sans" font-size="9.55" font-weight="normal" text-anchor="start" fill="#4d4d4d" stroke="#4d4d4d" stroke-width="0.15">0.0</text>
<line x1="650.2" y1="760.43" x2="653.60" y2="760.43" stroke="#333" stroke-width="1.1"/>
<text transform="translate(656.60,763.58) scale(1.13,1)" font-family="Liberation Sans" font-size="9.55" font-weight="normal" text-anchor="start" fill="#4d4d4d" stroke="#4d4d4d" stroke-width="0.15">0.3</text>
<line x1="650.2" y1="659.36" x2="653.60" y2="659.36" stroke="#333" stroke-width="1.1"/>
<text transform="translate(656.60,662.51) scale(1.13,1)" font-family="Liberation Sans" font-size="9.55" font-weight="normal" text-anchor="start" fill="#4d4d4d" stroke="#4d4d4d" stroke-width="0.15">0.6</text>
<line x1="650.2" y1="558.29" x2="653.60" y2="558.29" stroke="#333" stroke-width="1.1"/>
<text transform="translate(656.60,561.44) scale(1.13,1)" font-family="Liberation Sans" font-size="9.55" font-weight="normal" text-anchor="start" fill="#4d4d4d" stroke="#4d4d4d" stroke-width="0.15">0.9</text>
<text transform="translate(341.00,915.80) scale(1.13,1)" font-family="Liberation Sans" font-size="11.8" font-weight="normal" text-anchor="middle" fill="#000" stroke="#000" stroke-width="0.2">Predicted risk score</text>
<text transform="translate(13.60,679.00) scale(1.13,1) rotate(-90)" font-family="Liberation Sans" font-size="11.8" font-weight="normal" text-anchor="middle" fill="#000" stroke="#000" stroke-width="0.2">HR (95%CI)</text>
<text transform="translate(674.60,679.00) scale(1.13,1) rotate(90)" font-family="Liberation Sans" font-size="11.8" font-weight="normal" text-anchor="middle" fill="#000" stroke="#000" stroke-width="0.2">Density</text>
<text transform="translate(450.60,697.00) scale(1.13,1)" font-family="Liberation Sans" font-size="11.72" font-weight="normal" text-anchor="start" fill="#000" stroke="#000" stroke-width="0.2">P for nonlinearity &lt; 0.0001</text><g transform="translate(450.60,697.00) scale(1.13,1)"><rect x="130.633" y="-1.626" width="2.504" height="2.476" fill="#fff"/><rect x="134.574" y="-1.626" width="2.413" height="2.476" fill="#fff"/></g>
<text transform="translate(320.20,875.60) scale(1.13,1)" font-family="Liberation Sans" font-size="11.7" font-weight="normal" text-anchor="start" fill="#e31a1c" stroke="#e31a1c" stroke-width="0.22">0.6341</text><g transform="translate(320.20,875.60) scale(1.13,1)"><rect x="29.466" y="-1.624" width="2.511" height="2.484" fill="#fff"/><rect x="33.411" y="-1.624" width="2.420" height="2.484" fill="#fff"/></g>
<text transform="translate(7.60,458.30) scale(0.93,1)" font-family="Liberation Serif" font-size="13.8" font-weight="bold" text-anchor="start" fill="#000">B</text>
</svg>
</body></html>
